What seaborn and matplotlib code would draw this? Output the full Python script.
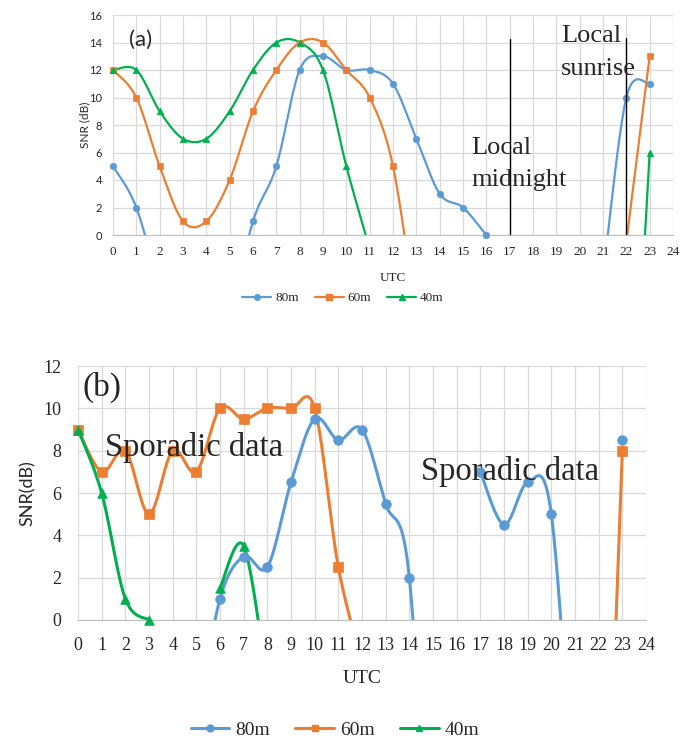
import numpy as np
import pandas as pd
import matplotlib
matplotlib.use("Agg")
import matplotlib.pyplot as plt
from matplotlib.lines import Line2D
import seaborn as sns

# UTC hours
hours = list(range(24))
nan = np.nan

# panel (a) SNR (dB); negative values are estimated points that fall below the axis floor
a_80m = [5, 2, -4, nan, nan, -6, 1, 5, 12, 13, 12, 12, 11, 7, 3, 2, 0, nan, nan, nan, nan, -3, 10, 11]
a_60m = [12, 10, 5, 1, 1, 4, 9, 12, 14, 14, 12, 10, 5, -6, nan, nan, nan, nan, nan, nan, nan, nan, -0.5, 13]
a_40m = [12, 12, 9, 7, 7, 9, 12, 14, 14, 12, 5, -1, nan, nan, nan, nan, nan, nan, nan, nan, nan, nan, -24, 6]

# panel (b)
b_80m = [nan, nan, nan, nan, nan, -5, 1, 3, 2.5, 6.5, 9.5, 8.5, 9, 5.5, 2, -16, nan, 7, 4.5, 6.5, 5, -10, nan, 8.5]
b_60m = [9, 7, 8, 5, 8, 7, 10, 9.5, 10, 10, 10, 2.5, -2, nan, nan, nan, nan, nan, nan, nan, nan, nan, -22, 8]
b_40m = [9, 6, 1, 0, nan, nan, 1.5, 3.5, -3, nan, nan, nan, nan, nan, nan, nan, nan, nan, nan, nan, nan, nan, nan, nan]

bands = ["80m", "60m", "40m"]
colors = {"80m": "#5B9BD5", "60m": "#ED7D31", "40m": "#00B050"}
markers = {"80m": "o", "60m": "s", "40m": "^"}

SERIF = ["Liberation Serif", "DejaVu Serif"]
SANS = ["Lato", "DejaVu Sans"]


def smooth(xs, ys, n=40):
    # excel-like bezier smoothing, split at gaps
    pts = np.array([xs, ys], dtype=float).T
    ok = ~np.isnan(pts[:, 1])
    runs, cur = [], []
    for i in range(len(pts)):
        if ok[i]:
            cur.append(pts[i])
        elif cur:
            runs.append(np.array(cur)); cur = []
    if cur:
        runs.append(np.array(cur))
    out = []
    for r in runs:
        if len(r) < 2:
            continue
        seg = []
        for i in range(len(r) - 1):
            p0 = r[i - 1] if i > 0 else r[i]
            p1, p2 = r[i], r[i + 1]
            p3 = r[i + 2] if i + 2 < len(r) else r[i + 1]
            c1 = p1 + (p2 - p0) / 6
            c2 = p2 - (p3 - p1) / 6
            t = np.linspace(0, 1, n)[:, None]
            b = (1 - t) ** 3 * p1 + 3 * (1 - t) ** 2 * t * c1 + 3 * (1 - t) * t ** 2 * c2 + t ** 3 * p2
            seg.append(b)
        out.append(np.vstack(seg))
    return out


def draw(ax, data, lw, ms):
    for band in bands:
        for curve in smooth(hours, data[band]):
            sns.lineplot(x=curve[:, 0], y=curve[:, 1], sort=False, estimator=None,
                         color=colors[band], lw=lw, ax=ax, zorder=3)
        df = pd.DataFrame({"h": hours, "v": data[band]})
        df = df[df["v"] >= 0]
        sns.scatterplot(data=df, x="h", y="v", marker=markers[band], color=colors[band],
                        s=ms, edgecolor=colors[band], linewidth=0.5, ax=ax, zorder=4, clip_on=False)


def style_axes(ax, ymax, ystep):
    ax.set_xlim(0, 24)
    ax.set_ylim(0, ymax)
    ax.set_xticks(range(25))
    ax.set_yticks(np.arange(0, ymax + 0.1, ystep))
    ax.grid(True, color="#D9D9D9", lw=0.9)
    ax.set_axisbelow(True)
    for s in ["top", "right", "left"]:
        ax.spines[s].set_visible(False)
    ax.spines["bottom"].set_color("#BFBFBF")
    ax.tick_params(length=0)


sns.set_style("whitegrid")
plt.rcParams["font.family"] = SERIF

fig = plt.figure(figsize=(6.81, 7.42), dpi=100)

# ---- panel (a)
ax1 = fig.add_axes([113 / 681, 1 - 235 / 742, 560 / 681, 220 / 742])
draw(ax1, {"80m": a_80m, "60m": a_60m, "40m": a_40m}, 1.6, 22)
style_axes(ax1, 16, 2)
ax1.set_xticklabels([str(h) for h in range(25)], fontsize=9.5, family=SERIF)
ax1.set_yticklabels([str(v) for v in range(0, 17, 2)], fontsize=8, family=SANS)
ax1.tick_params(axis="x", pad=8)
ax1.tick_params(axis="y", pad=8)
ax1.set_xlabel("UTC", fontsize=9.5, family=SERIF, labelpad=10)
ax1.set_ylabel("SNR (dB)", fontsize=8.5, family=SANS, labelpad=-1)
ax1.plot([17, 17], [0, 14.25], color="black", lw=1.0, zorder=5)
ax1.plot([22, 22], [0, 14.3], color="black", lw=1.0, zorder=5)
ax1.text(0.7, 14.2, "(a)", fontsize=16, family=SANS, va="center")
ax1.text(15.35, 6.3, "Local", fontsize=19, va="center", zorder=6)
ax1.text(15.35, 4.0, "midnight", fontsize=19, va="center", zorder=6)
ax1.text(19.2, 14.5, "Local", fontsize=19, va="center", zorder=6)
ax1.text(19.2, 12.1, "sunrise", fontsize=19, va="center", zorder=6)

h1 = [Line2D([], [], color=colors[b], marker=markers[b], markersize=4, lw=1.6) for b in bands]
fig.legend(h1, bands, loc="center", bbox_to_anchor=(343 / 681, 1 - 298 / 742), ncol=3, frameon=False,
           prop={"family": SERIF, "size": 9.5}, handlelength=2.2, handletextpad=0.3, columnspacing=1.2)

# ---- panel (b)
ax2 = fig.add_axes([78 / 681, 1 - 620 / 742, 568 / 681, 254 / 742])
draw(ax2, {"80m": b_80m, "60m": b_60m, "40m": b_40m}, 2.2, 48)
style_axes(ax2, 12, 2)
ax2.set_xticklabels([str(h) for h in range(25)], fontsize=13, family=SERIF)
ax2.set_yticklabels([str(v) for v in range(0, 13, 2)], fontsize=13, family=SERIF)
ax2.tick_params(axis="x", pad=12)
ax2.tick_params(axis="y", pad=12)
ax2.set_xlabel("UTC", fontsize=14, family=SERIF, labelpad=12)
ax2.set_ylabel("SNR(dB)", fontsize=13, family=SANS, labelpad=5)
ax2.text(0.2, 11.0, "(b)", fontsize=24, va="center")
ax2.text(1.15, 8.15, "Sporadic data", fontsize=23.5, va="center", zorder=6)
ax2.text(14.5, 7.0, "Sporadic data", fontsize=23.5, va="center", zorder=6)

h2 = [Line2D([], [], color=colors[b], marker=markers[b], markersize=5, lw=2.2) for b in bands]
fig.legend(h2, bands, loc="center", bbox_to_anchor=(335 / 681, 1 - 730 / 742), ncol=3, frameon=False,
           prop={"family": SERIF, "size": 14}, handlelength=2.0, handletextpad=0.3, columnspacing=1.3)

fig.savefig("out.png", dpi=100)
